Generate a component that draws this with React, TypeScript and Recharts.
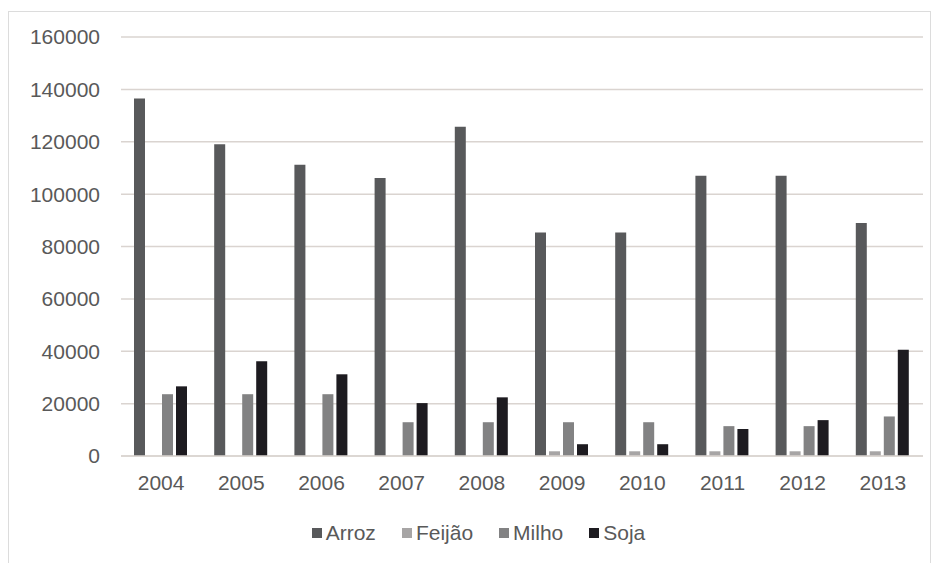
import React from "react";
import { BarChart, Bar, XAxis, YAxis, CartesianGrid, Legend } from "recharts";

const years = ["2004", "2005", "2006", "2007", "2008", "2009", "2010", "2011", "2012", "2013"];
const arroz = [136500, 119000, 111200, 106200, 125700, 85300, 85300, 107000, 107000, 89000];
const feijao = [null, null, null, null, null, 1800, 1800, 1800, 1800, 1800];
const milho = [23600, 23600, 23600, 12900, 12900, 12900, 12900, 11400, 11400, 15100];
const soja = [26600, 36200, 31200, 20200, 22400, 4500, 4500, 10300, 13700, 40600];
const yTicks = [0, 20000, 40000, 60000, 80000, 100000, 120000, 140000, 160000];

const series = [
  { key: "Arroz", values: arroz, color: "#58595b" },
  { key: "Feijão", values: feijao, color: "#a7a5a5" },
  { key: "Milho", values: milho, color: "#828283" },
  { key: "Soja", values: soja, color: "#1d1b20" },
];

const data = years.map((y, i) => {
  const row: any = { year: y };
  series.forEach((s) => (row[s.key] = s.values[i]));
  return row;
});

const FONT = "'Liberation Sans', Arial, sans-serif";
const TEXT = "#595959";

const LegendContent = () => (
  <div
    style={{
      height: 30,
      display: "flex",
      justifyContent: "center",
      alignItems: "center",
      fontFamily: FONT,
      fontSize: 21,
      color: TEXT,
      paddingLeft: 25,
      boxSizing: "border-box",
    }}
  >
    {series.map((s, i) => (
      <div key={s.key} style={{ display: "flex", alignItems: "center", marginRight: i < series.length - 1 ? 26 : 0 }}>
        <span style={{ display: "inline-block", width: 10, height: 10, background: s.color, marginRight: 4 }} />
        <span>{s.key}</span>
      </div>
    ))}
  </div>
);

export default function App() {
  return (
    <div
      style={{
        marginTop: 3,
        width: 921,
        height: 551,
        borderTop: "1px solid #dcdcdc",
        borderLeft: "1px solid #dcdcdc",
        borderRight: "1px solid #dcdcdc",
        background: "#fff",
        boxSizing: "content-box",
      }}
    >
      <BarChart
        width={921}
        height={550}
        data={data}
        margin={{ top: 25, right: 7, left: 0, bottom: 14 }}
        barCategoryGap={13}
        barGap={3}
      >
        <CartesianGrid vertical={false} stroke="#dad4d0" strokeWidth={1.5} />
        <XAxis
          dataKey="year"
          axisLine={{ stroke: "#dad4d0", strokeWidth: 1.5 }}
          tickLine={false}
          tickMargin={13}
          height={62}
          tick={{ fill: TEXT, fontSize: 21, fontFamily: FONT }}
        />
        <YAxis
          width={112}
          domain={[0, 160000]}
          ticks={yTicks}
          axisLine={false}
          tickLine={false}
          tickMargin={15}
          tick={{ fill: TEXT, fontSize: 21, fontFamily: FONT }}
        />
        <Legend verticalAlign="bottom" content={<LegendContent />} />
        {series.map((s) => (
          <Bar key={s.key} dataKey={s.key} fill={s.color} isAnimationActive={false} />
        ))}
      </BarChart>
    </div>
  );
}
